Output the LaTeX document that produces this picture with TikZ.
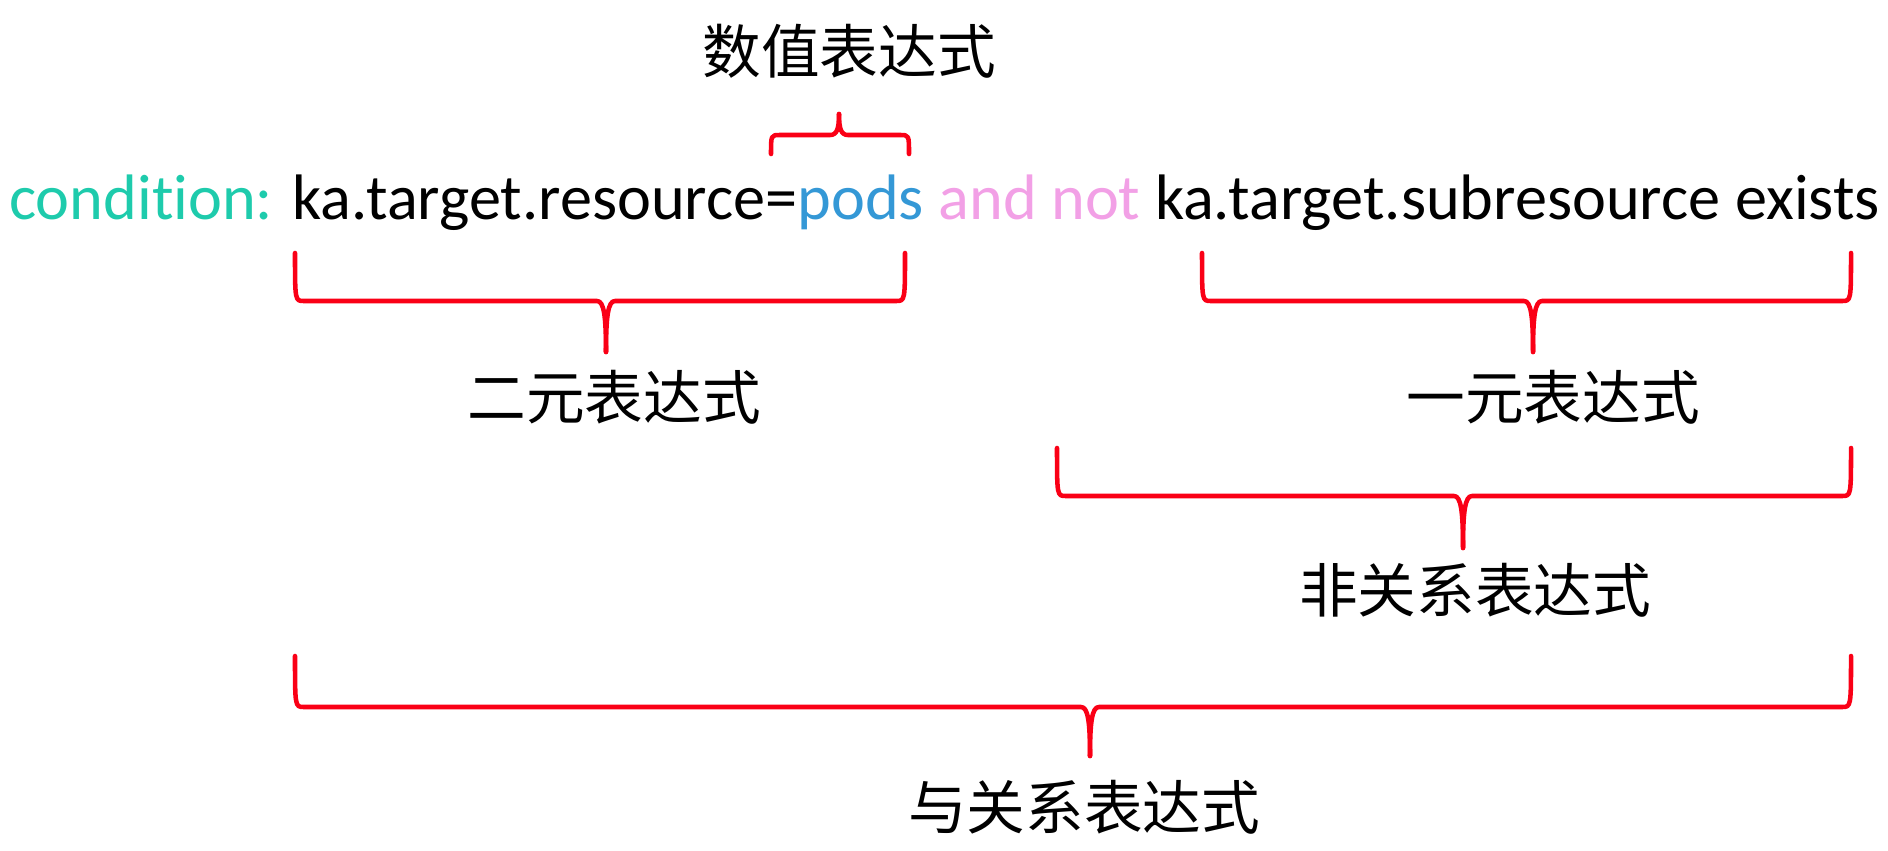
\documentclass[tikz,border=0pt]{standalone}
\usepackage{fontspec}
\usepackage{tikz}
\setmainfont{Carlito}[Ligatures=NoCommon]
\newfontfamily\cjk{Noto Sans CJK SC}
\definecolor{condgreen}{RGB}{30,203,172}
\definecolor{podsblue}{RGB}{52,152,214}
\definecolor{notpink}{RGB}{242,160,230}
\definecolor{bracered}{RGB}{250,0,22}
\tikzset{
  exprlabel/.style={inner sep=0.75pt,font=\cjk\fontsize{44}{50}\selectfont},
  bracepen/.style={draw=bracered,line width=3.4pt,line cap=round,line join=round}
}
% brace: x1, x2, tip x, leg end y, bar y, tip y
\newcommand{\exprbrace}[6]{%
  \draw[bracepen] (#1,#4) .. controls (#1,#5) and (#1,#5) .. ({#1+9},#5) -- ({#3-9},#5)
    .. controls ({#3-2},#5) and (#3,{#5+0.3*(#6-#5)}) .. (#3,#6);
  \draw[bracepen] (#2,#4) .. controls (#2,#5) and (#2,#5) .. ({#2-9},#5) -- ({#3+9},#5)
    .. controls ({#3+2},#5) and (#3,{#5+0.3*(#6-#5)}) .. (#3,#6);
}

\begin{document}
\begin{tikzpicture}[x=0.75pt,y=0.75pt,yscale=-1,xscale=1]
\useasboundingbox (0,0) rectangle (1888,850);

% Text Node
\draw (9,219) node (cond) [anchor=base west][inner sep=0pt][font=\fontsize{48.2}{56}\selectfont]
  {\textcolor{condgreen}{condition:} ka.target.resource=\textcolor{podsblue}{pods} \textcolor{notpink}{and not} ka.target.subresource exists};

% Braces
\exprbrace{771}{909}{839}{154}{135}{114}
\exprbrace{295}{905}{606}{253}{301}{352}
\exprbrace{1202}{1851}{1533}{253}{301}{352}
\exprbrace{1057}{1851}{1463}{448}{496}{548}
\exprbrace{295}{1851}{1090}{656}{707}{756}

% Text Node
\draw (849,51) node (num) [exprlabel] {数值表达式};
% Text Node
\draw (614,397) node (binary) [exprlabel] {二元表达式};
% Text Node
\draw (1553,397) node (unary) [exprlabel] {一元表达式};
% Text Node
\draw (1475,590) node (notrel) [exprlabel] {非关系表达式};
% Text Node
\draw (1084,807) node (andrel) [exprlabel] {与关系表达式};

\end{tikzpicture}
\end{document}
